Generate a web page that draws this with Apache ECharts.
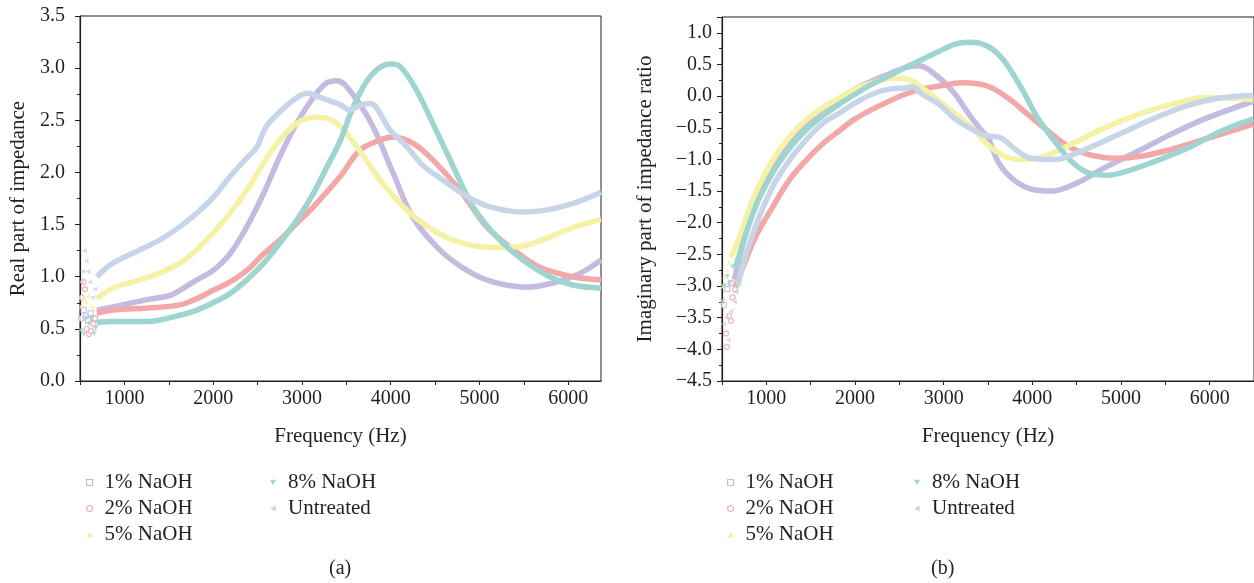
<!DOCTYPE html>
<html><head><meta charset="utf-8">
<script src="https://cdn.jsdelivr.net/npm/echarts@6/dist/echarts.min.js"></script>
<style>html,body{margin:0;padding:0;background:#fff}#c{width:1254px;height:583px}</style>
</head><body><div id="c"></div>
<script>
const seriesNames = ['1% NaOH', '2% NaOH', '5% NaOH', '8% NaOH', 'Untreated'];
const xTickLabels = [1000, 2000, 3000, 4000, 5000, 6000];

// Real part of impedance (left panel), [frequency Hz, value]
const re1 = [[690,0.68],[870,0.71],[1255,0.78],[1510,0.82],[1626,0.87],[1817,0.97],[2000,1.06],[2190,1.22],[2380,1.48],[2570,1.80],[2750,2.15],[2940,2.47],[3130,2.72],[3280,2.86],[3400,2.88],[3580,2.74],[3800,2.44],[4030,1.99],[4250,1.57],[4550,1.26],[4860,1.06],[5150,0.95],[5530,0.90],[5830,0.94],[6130,1.03],[6370,1.16]];
const re2 = [[690,0.65],[870,0.68],[1255,0.70],[1626,0.73],[1817,0.79],[2000,0.87],[2190,0.95],[2380,1.06],[2570,1.22],[2750,1.35],[2940,1.51],[3130,1.67],[3430,1.96],[3650,2.21],[3880,2.31],[4030,2.34],[4250,2.28],[4475,2.12],[4780,1.83],[5080,1.48],[5380,1.26],[5680,1.09],[6050,1.00],[6370,0.97]];
const re5 = [[690,0.79],[870,0.89],[1255,0.99],[1435,1.05],[1626,1.13],[1817,1.26],[2000,1.42],[2190,1.61],[2380,1.83],[2570,2.09],[2750,2.31],[2940,2.47],[3130,2.53],[3280,2.52],[3430,2.44],[3650,2.21],[3880,1.93],[4180,1.64],[4475,1.45],[4780,1.33],[5150,1.28],[5455,1.29],[5760,1.37],[6050,1.47],[6370,1.55]];
const re8 = [[690,0.56],[870,0.57],[1255,0.57],[1626,0.63],[1817,0.68],[2000,0.75],[2190,0.84],[2380,0.97],[2570,1.13],[2750,1.32],[2940,1.54],[3130,1.80],[3280,2.05],[3430,2.30],[3580,2.63],[3770,2.92],[3990,3.04],[4100,3.02],[4290,2.79],[4475,2.47],[4670,2.12],[4930,1.67],[5200,1.38],[5490,1.16],[5790,1.00],[6050,0.92],[6370,0.89]];
const reU = [[690,1.00],[870,1.13],[1255,1.29],[1435,1.37],[1626,1.48],[1817,1.61],[2000,1.76],[2190,1.96],[2380,2.14],[2490,2.24],[2600,2.44],[2750,2.58],[2900,2.69],[3060,2.76],[3200,2.72],[3430,2.65],[3540,2.60],[3650,2.64],[3770,2.66],[3990,2.41],[4180,2.25],[4360,2.07],[4550,1.95],[4860,1.77],[5120,1.67],[5490,1.62],[5760,1.64],[6050,1.70],[6370,1.81]];
// low-frequency scattered points (left panel)
const re1Low = [[515,0.60],[540,0.68],[565,0.62],[590,0.58],[620,0.65],[650,0.60],[670,0.55]];
const re2Low = [[520,0.80],[540,0.95],[555,0.88],[575,0.50],[600,0.45],[625,0.48],[650,0.55],[670,0.60]];
const re5Low = [[515,0.72],[540,0.80],[570,0.76],[600,0.82],[630,0.72],[660,0.70]];
const re8Low = [[515,0.48],[540,0.45],[570,0.60],[600,0.55],[630,0.60],[660,0.45],[675,0.50]];
const reULow = [[515,0.95],[530,1.05],[550,1.25],[570,1.15],[590,1.05],[610,0.95],[640,0.80],[665,0.88]];

// Imaginary part of impedance ratio (right panel)
const im1 = [[640,-2.90],[760,-2.20],[872,-1.66],[1064,-1.13],[1252,-0.76],[1437,-0.47],[1629,-0.24],[1820,-0.05],[2001,0.11],[2193,0.24],[2384,0.35],[2565,0.45],[2720,0.48],[2949,0.29],[3130,0.03],[3281,-0.28],[3431,-0.55],[3502,-0.66],[3612,-1.03],[3763,-1.29],[3988,-1.47],[4214,-1.50],[4477,-1.39],[4816,-1.13],[5192,-0.87],[5568,-0.60],[5945,-0.36],[6493,-0.08]];
const im2 = [[651,-3.03],[872,-2.24],[1064,-1.77],[1252,-1.34],[1437,-1.03],[1629,-0.76],[1820,-0.55],[2001,-0.36],[2193,-0.21],[2384,-0.08],[2565,0.03],[2757,0.11],[2949,0.16],[3205,0.21],[3491,0.16],[3725,-0.03],[3950,-0.29],[4176,-0.55],[4402,-0.79],[4627,-0.92],[4928,-0.98],[5229,-0.95],[5568,-0.84],[5945,-0.68],[6493,-0.44]];
const im5 = [[600,-2.55],[692,-2.24],[872,-1.55],[1064,-1.03],[1252,-0.66],[1437,-0.39],[1629,-0.19],[1820,-0.03],[2001,0.11],[2193,0.21],[2384,0.28],[2565,0.28],[2757,0.13],[2949,-0.08],[3130,-0.28],[3356,-0.55],[3491,-0.76],[3687,-0.95],[3875,-1.00],[4063,-0.98],[4439,-0.76],[4816,-0.50],[5192,-0.29],[5568,-0.13],[5945,-0.02],[6493,-0.05]];
const im8 = [[651,-2.71],[872,-1.77],[1064,-1.23],[1252,-0.84],[1437,-0.55],[1629,-0.32],[1820,-0.13],[2001,0.03],[2193,0.19],[2384,0.32],[2565,0.45],[2757,0.58],[2949,0.71],[3130,0.82],[3281,0.85],[3420,0.83],[3550,0.74],[3687,0.55],[3875,0.13],[4063,-0.35],[4251,-0.71],[4439,-1.03],[4627,-1.21],[4853,-1.25],[5079,-1.18],[5380,-1.03],[5756,-0.82],[6133,-0.55],[6493,-0.36]];
const imU = [[680,-3.00],[726,-2.71],[872,-2.08],[1064,-1.45],[1252,-1.03],[1437,-0.71],[1629,-0.44],[1820,-0.27],[2001,-0.11],[2193,0.03],[2384,0.11],[2565,0.13],[2650,0.15],[2757,0.03],[2949,-0.13],[3130,-0.36],[3356,-0.55],[3502,-0.63],[3649,-0.66],[3807,-0.84],[3988,-0.98],[4258,-1.00],[4552,-0.87],[4935,-0.63],[5308,-0.39],[5681,-0.18],[6064,-0.04],[6493,0.01]];
// low-frequency scattered points (right panel)
const im1Low = [[520,-3.30],[560,-3.05],[600,-2.95]];
const im2Low = [[545,-3.75],[556,-3.96],[580,-3.47],[600,-3.55],[620,-3.18],[646,-3.05]];
const im5Low = [[510,-3.00],[530,-2.85],[560,-2.75],[580,-2.62]];
const im8Low = [[510,-3.25],[530,-3.00],[560,-2.85],[590,-2.95],[620,-2.70]];
const imULow = [[520,-3.60],[545,-3.50],[570,-3.85],[600,-3.40],[640,-3.25],[660,-3.10]];

const colors = ['#c5badf', '#f2a7a8', '#f5f1a5', '#9ed5d0', '#c7d5e9'];
const symbols = ['rect', 'circle', 'triangle', 'path://M0,0L10,0L5,9Z', 'path://M0,5L9,0L9,10Z'];
const hollow = [true, true, false, false, false];
const FONT = '"Liberation Serif", "DejaVu Serif", serif';
const TXT = '#231f20';

const reLines = [re1, re2, re5, re8, reU];
const reLows = [re1Low, re2Low, re5Low, re8Low, reULow];
const imLines = [im1, im2, im5, im8, imU];
const imLows = [im1Low, im2Low, im5Low, im8Low, imULow];

function fmtY(v) {
  const s = Math.abs(v).toFixed(1);
  return v < -1e-9 ? '\u2212' + s : s;
}

function xAxisCfg(gi, max) {
  return {
    type: 'value', gridIndex: gi, min: 500, max: max, interval: 500,
    name: 'Frequency (Hz)', nameLocation: 'middle', nameGap: 45,
    nameTextStyle: { fontFamily: FONT, fontSize: 21, color: TXT },
    axisLine: { show: true, onZero: false, lineStyle: { color: TXT, width: 1.2 } },
    axisTick: { show: true, length: 4, lineStyle: { color: TXT }, customValues: [500,1000,1500,2000,2500,3000,3500,4000,4500,5000,5500,6000] },
    axisLabel: { customValues: xTickLabels, fontFamily: FONT, fontSize: 20, color: TXT, margin: 8, formatter: v => String(v) },
    splitLine: { show: false }
  };
}
function yAxisCfg(gi, min, max, name, gap, margin) {
  return {
    type: 'value', gridIndex: gi, min: min, max: max, interval: 0.5,
    name: name, nameLocation: 'middle', nameGap: gap, nameRotate: 90,
    nameTextStyle: { fontFamily: FONT, fontSize: 21, color: TXT },
    axisLine: { show: true, onZero: false, lineStyle: { color: TXT, width: 1.2 } },
    axisTick: { show: true, length: 5, lineStyle: { color: TXT } },
    minorTick: { show: true, splitNumber: 2, length: 3, lineStyle: { color: TXT } },
    axisLabel: { fontFamily: FONT, fontSize: 20, color: TXT, margin: margin, formatter: fmtY, showMaxLabel: max % 0.5 === 0 },
    splitLine: { show: false }
  };
}

const series = [];
function addSeries(lines, lows, gi) {
  for (let i = 0; i < 5; i++) {
    series.push({
      name: seriesNames[i], type: 'line', xAxisIndex: gi, yAxisIndex: gi,
      data: lines[i], smooth: 0.35, showSymbol: false, symbol: 'none',
      lineStyle: { color: colors[i], width: 5.5 }, itemStyle: { color: colors[i] },
      emphasis: { disabled: true }, animation: false, z: 2 + i
    });
    series.push({
      name: seriesNames[i], type: 'scatter', xAxisIndex: gi, yAxisIndex: gi,
      data: lows[i], symbol: symbols[i], symbolSize: 5,
      itemStyle: hollow[i] ? { color: '#fff', borderColor: colors[i], borderWidth: 1.3 } : { color: colors[i] },
      emphasis: { disabled: true }, animation: false, z: 2 + i
    });
  }
}
addSeries(reLines, reLows, 0);
addSeries(imLines, imLows, 1);

function legendItems(idx) {
  return idx.map(i => ({
    name: seriesNames[i], icon: symbols[i],
    itemStyle: hollow[i] ? { color: '#fff', borderColor: colors[i], borderWidth: 1.2 } : { color: colors[i], borderWidth: 0 }
  }));
}
function legendCfg(left, top, idx) {
  return {
    left: left, top: top, orient: 'vertical', itemWidth: 6, itemHeight: 6, itemGap: 3,
    selectedMode: false, data: legendItems(idx),
    textStyle: { fontFamily: FONT, fontSize: 21, color: TXT, lineHeight: 23, padding: [0, 0, 0, 7] }
  };
}

const chart = echarts.init(document.getElementById('c'), null, { renderer: 'canvas' });
chart.setOption({
  backgroundColor: '#ffffff',
  animation: false,
  grid: [
    { left: 80, right: 653, top: 16, bottom: 202, show: true, borderColor: TXT, borderWidth: 1, backgroundColor: 'transparent' },
    { left: 722, right: 0, top: 17, bottom: 202, show: true, borderColor: TXT, borderWidth: 1, backgroundColor: 'transparent' }
  ],
  xAxis: [xAxisCfg(0, 6370), xAxisCfg(1, 6500)],
  yAxis: [
    yAxisCfg(0, 0, 3.5, 'Real part of impedance', 51, 15),
    yAxisCfg(1, -4.5, 1.25, 'Imaginary part of impedance ratio', 66, 10)
  ],
  legend: [
    legendCfg(81, 466, [0, 1, 2]),
    legendCfg(265, 466, [3, 4]),
    legendCfg(722, 466, [0, 1, 2]),
    legendCfg(909, 466, [3, 4])
  ],
  graphic: [
    { type: 'text', left: 329, top: 559, style: { text: '(a)', font: '20px "Liberation Serif", serif', fill: TXT } },
    { type: 'text', left: 931, top: 559, style: { text: '(b)', font: '20px "Liberation Serif", serif', fill: TXT } }
  ],
  series: series
});
</script>
</body></html>
